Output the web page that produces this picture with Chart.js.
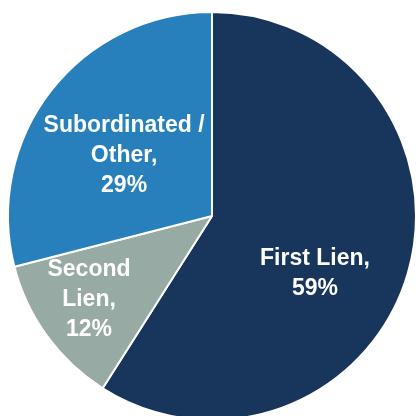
<!DOCTYPE html>
<html>
<head>
<meta charset="utf-8">
<script src="https://cdn.jsdelivr.net/npm/chart.js@4"></script>
<style>
  html, body { margin: 0; padding: 0; background: #fff; width: 416px; height: 416px; overflow: hidden; }
  #wrap { position: absolute; left: -8px; top: -4px; width: 440px; height: 440px; }
</style>
</head>
<body>
<div id="wrap"><canvas id="pieChart" width="440" height="440"></canvas></div>
<script>
// chart data
var categories = ['First Lien', 'Second Lien', 'Subordinated / Other'];
var shares = [59, 12, 29];
var labelLines = [
  ['First Lien,', '59%'],
  ['Second', 'Lien,', '12%'],
  ['Subordinated /', 'Other,', '29%']
];
var sliceColors = ['#18355c', '#97aaa4', '#2780bb'];

// where each label block sits, relative to the pie centre (in radii)
var labelAnchors = [
  { x: 0.505, y: 0.284 },
  { x: -0.603, y: 0.409 },
  { x: -0.431, y: -0.294 }
];

var sliceLabels = {
  id: 'sliceLabels',
  afterDatasetsDraw: function (chart) {
    var ctx = chart.ctx;
    var meta = chart.getDatasetMeta(0);
    ctx.save();
    ctx.fillStyle = '#ffffff';
    ctx.font = 'bold 23px "Liberation Sans", Arial, sans-serif';
    ctx.textAlign = 'center';
    ctx.textBaseline = 'middle';
    meta.data.forEach(function (arc, i) {
      var r = arc.outerRadius;
      var cx = arc.x + labelAnchors[i].x * r;
      var cy = arc.y + labelAnchors[i].y * r;
      var lines = labelLines[i];
      var lh = 30;
      var top = cy - (lines.length - 1) * lh / 2;
      lines.forEach(function (t, k) {
        ctx.fillText(t, cx, top + k * lh);
      });
    });
    ctx.restore();
  }
};

var ctx = document.getElementById('pieChart').getContext('2d');
window.pieChart = new Chart(ctx, {
  type: 'pie',
  data: {
    labels: categories,
    datasets: [{
      data: shares,
      backgroundColor: sliceColors,
      borderColor: '#ffffff',
      borderWidth: 2
    }]
  },
  options: {
    responsive: false,
    animation: false,
    layout: { padding: 15 },
    plugins: {
      legend: { display: false },
      tooltip: { enabled: false }
    }
  },
  plugins: [sliceLabels]
});
</script>
</body>
</html>
